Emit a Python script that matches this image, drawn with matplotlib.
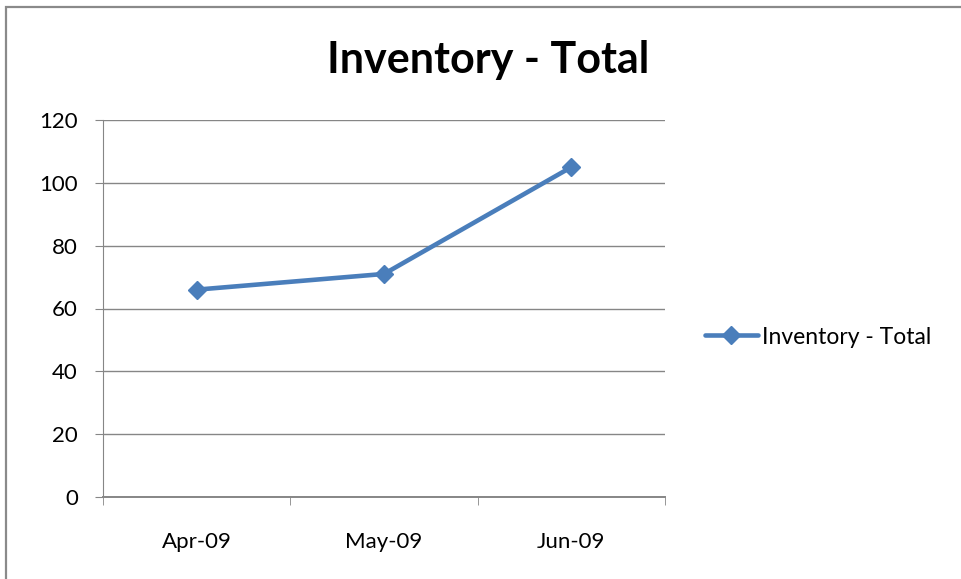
import matplotlib
matplotlib.use("Agg")
import matplotlib.pyplot as plt
from matplotlib.patches import Rectangle

categories = ["Apr-09", "May-09", "Jun-09"]
values = [66, 71, 105]
yticks = [0, 20, 40, 60, 80, 100, 120]
title = "Inventory - Total"
series_name = "Inventory - Total"

W, H = 961, 579
fig = plt.figure(figsize=(W / 100, H / 100), dpi=100)
plt.rcParams['font.family'] = ['Lato', 'DejaVu Sans']

# outer chart border
fig.patches.append(Rectangle((6 / W, -0.1), 1.2, (H - 7) / H + 0.1, transform=fig.transFigure,
                             fill=False, edgecolor="#8a8a8a", linewidth=1.6))

x0, x1 = 103, 665
y0, y1 = 497, 120
ax = fig.add_axes([x0 / W, 1 - y0 / H, (x1 - x0) / W, (y0 - y1) / H])

xs = list(range(len(categories)))
line, = ax.plot(xs, values, color="#4a7ebb", linewidth=3.3, marker="D", markersize=9.5,
                markeredgecolor="#4a7ebb", markerfacecolor="#4a7ebb", label=series_name,
                solid_capstyle="round", clip_on=False)

ax.set_xlim(-0.5, len(categories) - 0.5)
ax.set_ylim(0, 120)
ax.set_yticks(yticks)
ax.set_yticklabels([str(v) for v in yticks], fontsize=16)
ax.set_xticks(xs)
ax.set_xticklabels(categories, fontsize=16)
ax.set_xticks([-0.5 + i for i in range(len(categories) + 1)], minor=True)

grid_c = "#868686"
ax.grid(axis="y", color=grid_c, linewidth=1.0)
ax.set_axisbelow(True)
for s in ["top", "right"]:
    ax.spines[s].set_visible(False)
ax.spines["left"].set_color(grid_c)
ax.spines["bottom"].set_color(grid_c)
ax.spines["bottom"].set_linewidth(1.4)

ax.tick_params(axis="y", length=6, color=grid_c, pad=12)
ax.tick_params(axis="x", which="major", length=0, pad=25)
ax.tick_params(axis="x", which="minor", length=6, color=grid_c)

fig.text(488 / W, 1 - 60 / H, title, fontsize=31, fontweight="bold", ha="center", va="center")

leg = fig.legend(handles=[line], labels=[series_name], loc="center left",
                 bbox_to_anchor=(705 / W, 1 - 337 / H), frameon=False, fontsize=16.5,
                 handlelength=2.3, handletextpad=0.2, borderpad=0, borderaxespad=0)

fig.savefig("out.png", dpi=100)
